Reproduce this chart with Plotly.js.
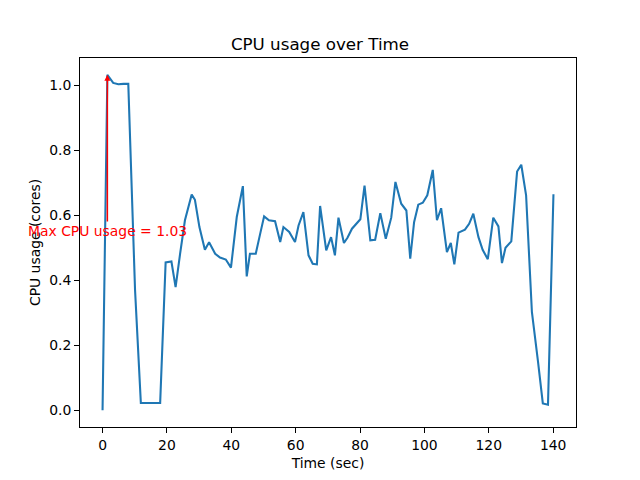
<!DOCTYPE html>
<html>
<head>
<meta charset="utf-8">
<script src="https://cdn.plot.ly/plotly-3.0.1.min.js"></script>
<style>html,body{margin:0;padding:0;background:#fff;}#chart{width:640px;height:480px;}</style>
</head>
<body>
<div id="chart"></div>
<script>
const timeSec = [0, 1.5, 3.3, 4.9, 6.5, 8.0, 10.1, 11.9, 13.5, 15.1, 16.5, 17.9, 19.6, 21.4, 22.7, 24.1, 25.6, 27.7,
  28.7, 30.1, 31.8, 33.1, 35.0, 36.5, 38.3, 39.9, 41.7, 43.6, 44.8, 45.8, 47.6, 48.9, 50.2, 51.7, 53.6, 55.2, 56.2,
  58.0, 59.8, 60.9, 62.4, 64.0, 65.3, 66.6, 67.6, 69.5, 71.0, 72.2, 73.3, 75.0, 76.1, 77.5, 78.7, 80.1, 81.4, 83.2,
  84.7, 86.3, 88.0, 89.7, 91.0, 92.8, 94.4, 95.6, 96.8, 98.1, 99.5, 100.9, 102.6, 103.9, 105.2, 107.0, 108.2, 109.3,
  110.6, 112.6, 113.9, 115.2, 116.8, 118.1, 119.7, 121.4, 123.0, 124.1, 125.2, 127.0, 128.8, 130.1, 131.6, 133.4,
  135.3, 136.8, 138.4, 140.1];
const cpuCores = [0.0, 1.033, 1.008, 1.004, 1.005, 1.005, 0.37, 0.022, 0.022, 0.021, 0.022, 0.022, 0.455, 0.458, 0.379, 0.482, 0.585, 0.664,
  0.648, 0.564, 0.494, 0.517, 0.482, 0.47, 0.464, 0.439, 0.595, 0.69, 0.412, 0.482, 0.482, 0.54, 0.597, 0.585, 0.582, 0.518, 0.564,
  0.549, 0.518, 0.569, 0.61, 0.477, 0.451, 0.449, 0.629, 0.492, 0.533, 0.477, 0.593, 0.515, 0.531, 0.559, 0.574, 0.588, 0.692, 0.523,
  0.525, 0.607, 0.528, 0.593, 0.703, 0.636, 0.615, 0.467, 0.579, 0.633, 0.639, 0.662, 0.74, 0.585, 0.622, 0.487, 0.515, 0.449,
  0.547, 0.556, 0.574, 0.605, 0.533, 0.494, 0.465, 0.593, 0.566, 0.453, 0.5, 0.52, 0.735, 0.756, 0.662, 0.303,
  0.15, 0.021, 0.017, 0.665];
const chartTitle = "CPU usage over Time";
const xLabel = "Time (sec)";
const yLabel = "CPU usage (cores)";

let maxIdx = 0;
cpuCores.forEach((v, i) => { if (v > cpuCores[maxIdx]) maxIdx = i; });
const maxVal = cpuCores[maxIdx];
const tMax = Math.max(...timeSec), tMin = Math.min(...timeSec);
const yMax = Math.max(...cpuCores), yMin = Math.min(...cpuCores);
const xPad = (tMax - tMin) * 0.05, yPad = (yMax - yMin) * 0.05;

const font = {family: "DejaVu Sans", size: 13.9, color: "#000"};
const axisCommon = {
  showgrid: false, zeroline: false, showline: true, mirror: true, linecolor: "#000", linewidth: 1,
  ticks: "outside", ticklen: 4.9, tickwidth: 1, tickcolor: "#000", tickfont: font
};

Plotly.newPlot("chart", [{
  x: timeSec, y: cpuCores, type: "scatter", mode: "lines",
  line: {color: "#1f77b4", width: 2.08}, hoverinfo: "none"
}], {
  width: 640, height: 480,
  margin: {l: 80, r: 64, t: 58, b: 53, pad: 0},
  paper_bgcolor: "#fff", plot_bgcolor: "#fff",
  showlegend: false,
  font: font,
  title: {text: chartTitle, font: {family: "DejaVu Sans", size: 16.7, color: "#000"}, x: 0.5, xanchor: "center", y: 0.908, yanchor: "middle"},
  xaxis: Object.assign({}, axisCommon, {
    range: [tMin - xPad, tMax + xPad], tickmode: "linear", tick0: 0, dtick: 20,
    title: {text: xLabel, font: font, standoff: 6}
  }),
  yaxis: Object.assign({}, axisCommon, {
    range: [yMin - yPad, yMax + yPad], tickmode: "linear", tick0: 0, dtick: 0.2, tickformat: ".1f",
    title: {text: yLabel, font: font, standoff: 5}
  }),
  annotations: [{
    x: timeSec[maxIdx], y: maxVal, xref: "x", yref: "y",
    ax: timeSec[maxIdx], ay: 0.552, axref: "x", ayref: "y",
    text: "Max CPU usage = " + maxVal.toFixed(2),
    font: {family: "DejaVu Sans", size: 13.9, color: "red"},
    showarrow: true, arrowcolor: "red", arrowwidth: 1.5, arrowhead: 2, arrowsize: 0.8, standoff: 0
  }]
}, {staticPlot: true});
</script>
</body>
</html>
